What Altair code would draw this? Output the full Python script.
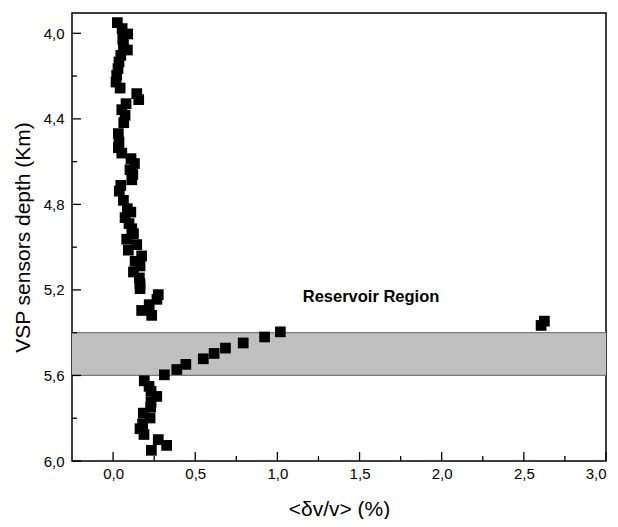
import altair as alt
import pandas as pd

# ---- data ----
depth = [3.950, 3.978, 4.003, 4.028, 4.053, 4.078, 4.103, 4.134, 4.165, 4.196,
         4.228, 4.256, 4.282, 4.310, 4.329, 4.357, 4.383, 4.418, 4.469, 4.508,
         4.535, 4.560, 4.586, 4.609, 4.638, 4.660, 4.685, 4.711, 4.738, 4.781,
         4.820, 4.836, 4.862, 4.890, 4.914, 4.937, 4.963, 4.988, 5.014, 5.041,
         5.066, 5.088, 5.116, 5.144, 5.170, 5.194, 5.222, 5.244, 5.269, 5.296,
         5.319, 5.346, 5.366, 5.396, 5.420, 5.448, 5.472, 5.497, 5.522, 5.548,
         5.572, 5.597, 5.625, 5.651, 5.674, 5.698, 5.724, 5.748, 5.776, 5.799,
         5.826, 5.849, 5.876, 5.900, 5.927, 5.950]
dvv = [0.026, 0.055, 0.089, 0.059, 0.063, 0.087, 0.047, 0.036, 0.030, 0.022,
       0.018, 0.043, 0.144, 0.156, 0.079, 0.053, 0.073, 0.065, 0.032, 0.036,
       0.032, 0.053, 0.109, 0.130, 0.103, 0.120, 0.114, 0.047, 0.038, 0.063,
       0.087, 0.108, 0.073, 0.097, 0.114, 0.124, 0.083, 0.144, 0.093, 0.174,
       0.134, 0.164, 0.124, 0.160, 0.164, 0.164, 0.275, 0.267, 0.220, 0.174,
       0.235, 2.625, 2.605, 1.018, 0.922, 0.792, 0.684, 0.615, 0.549, 0.443,
       0.388, 0.312, 0.190, 0.219, 0.231, 0.266, 0.231, 0.229, 0.184, 0.225,
       0.180, 0.164, 0.188, 0.275, 0.326, 0.233]

band_top = [5.4]
band_bottom = [5.6]

x_major = [0.0, 0.5, 1.0, 1.5, 2.0, 2.5, 3.0]
x_minor = [0.25, 0.75, 1.25, 1.75, 2.25, 2.75]
y_major = [4.0, 4.4, 4.8, 5.2, 5.6, 6.0]
y_minor = [4.2, 4.6, 5.0, 5.4, 5.8]

label_text = ["Reservoir Region"]
label_x = [1.57]
label_y = [5.235]

x_title = "<δv/v> (%)"
y_title = "VSP sensors depth (Km)"

# ---- layout ----
W, H = 534, 448
FONT = "Liberation Sans"
xs = alt.Scale(domain=[-0.25, 3.0], nice=False, zero=False)
ys = alt.Scale(domain=[3.905, 6.0], reverse=True, nice=False, zero=False)
comma = "replace(format(datum.value, '.1f'), '.', ',')"

ax_x = alt.Axis(values=x_major, labelExpr=comma, tickSize=0, domain=False,
                grid=False, labelFont=FONT, labelFontSize=15, labelColor="black",
                labelPadding=5, title=x_title, titleFont=FONT, titleFontSize=21,
                titleFontWeight="normal", titleColor="black", titlePadding=17)
ax_y = alt.Axis(values=y_major, labelExpr=comma, tickSize=0, domain=False,
                grid=False, labelFont=FONT, labelFontSize=15, labelColor="black",
                labelPadding=8, title=y_title, titleFont=FONT, titleFontSize=21,
                titleFontWeight="normal", titleColor="black", titlePadding=10)

pts = pd.DataFrame({"dvv": dvv, "depth": depth})

band = alt.Chart(pd.DataFrame({"a": band_top, "b": band_bottom})).mark_rect(
    color="#c0c0c0"
).encode(
    y=alt.Y("a:Q", scale=ys, axis=ax_y),
    y2="b:Q",
    x=alt.value(0),
    x2=alt.value(W),
)

band_edges = alt.Chart(pd.DataFrame({"v": band_top + band_bottom})).mark_rule(
    color="#7a7a7a", strokeWidth=1.2
).encode(
    y=alt.Y("v:Q", scale=ys, axis=ax_y),
    x=alt.value(0),
    x2=alt.value(W),
)

points = alt.Chart(pts).mark_square(size=115, color="black", opacity=1).encode(
    x=alt.X("dvv:Q", scale=xs, axis=ax_x),
    y=alt.Y("depth:Q", scale=ys, axis=ax_y),
)

def xticks(vals, length):
    return alt.Chart(pd.DataFrame({"v": vals})).mark_rule(color="black", strokeWidth=1.3).encode(
        x=alt.X("v:Q", scale=xs, axis=ax_x), y=alt.value(H), y2=alt.value(H - length))

def yticks(vals, length):
    return alt.Chart(pd.DataFrame({"v": vals})).mark_rule(color="black", strokeWidth=1.3).encode(
        y=alt.Y("v:Q", scale=ys, axis=ax_y), x=alt.value(0), x2=alt.value(length))

text = alt.Chart(pd.DataFrame({"t": label_text, "x": label_x, "y": label_y})).mark_text(
    font=FONT, fontSize=16.5, fontWeight="bold", color="black"
).encode(
    x=alt.X("x:Q", scale=xs, axis=ax_x),
    y=alt.Y("y:Q", scale=ys, axis=ax_y),
    text="t:N",
)

chart = alt.layer(
    band, band_edges, points,
    xticks(x_major, 9), xticks(x_minor, 5),
    yticks(y_major, 9), yticks(y_minor, 5),
    text,
).properties(
    width=W, height=H,
    autosize=alt.AutoSizeParams(type="none"),
    padding={"left": 64, "top": 5, "right": 4, "bottom": 58},
).configure_view(
    stroke="black", strokeWidth=1.5
)

chart.save("out.html", embed_options={"renderer": "svg", "actions": False})
